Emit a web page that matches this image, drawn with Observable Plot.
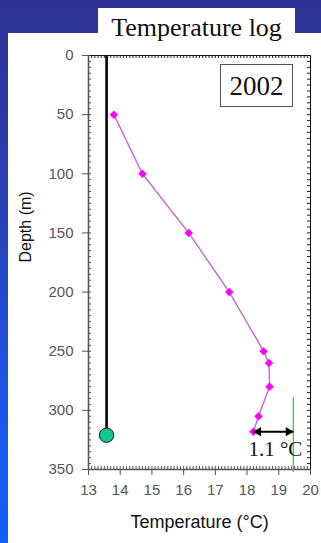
<!DOCTYPE html>
<html>
<head>
<meta charset="utf-8">
<script src="https://cdn.jsdelivr.net/npm/d3@7"></script>
<script src="https://cdn.jsdelivr.net/npm/@observablehq/plot@0.6"></script>
<style>
  html, body { margin: 0; padding: 0; }
  #page { position: relative; width: 321px; height: 543px; overflow: hidden;
    background: linear-gradient(to bottom, #2e3192 0%, #2b3fb4 35%, #1f52de 65%, #1060fb 100%); }
  #panel { position: absolute; left: 8px; top: 33px; width: 313px; height: 510px; background: #fff; }
  #titlebox { position: absolute; left: 98px; top: 8px; width: 197px; height: 26px; background: #fff; }
  #title { position: absolute; left: 98px; width: 197px; top: 13px; text-align: center;
    font-family: "Liberation Serif", "Times New Roman", serif; font-size: 26px; line-height: 30px; color: #111; }
  #year { position: absolute; left: 220px; top: 64px; width: 73px; height: 43px; border: 1px solid #555;
    box-sizing: border-box; background: #fff; text-align: center;
    font-family: "Liberation Serif", "Times New Roman", serif; font-size: 27px; line-height: 42px; color: #111; }
  #chart { position: absolute; left: 0; top: 0; }
</style>
</head>
<body>
<div id="page">
  <div id="panel"></div>
  <div id="titlebox"></div>
  <div id="title">Temperature log</div>
  <div id="chart"></div>
  <div id="year">2002</div>
</div>
<script>
// ---- data ----
const temperatures = [13.80, 14.70, 16.16, 17.44, 18.52, 18.69, 18.71, 18.36, 18.20];
const depths       = [50, 100, 150, 200, 250, 260, 280, 305, 318];
const depthTicks = [0, 50, 100, 150, 200, 250, 300, 350];
const tempTicks  = [13, 14, 15, 16, 17, 18, 19, 20];
const probeTemp = 13.57;
const probeTopDepth = 0;
const probeDepth = 321;
const refTemp = 19.46;          // green reference line
const refDepthTop = 289;
const refDepthBottom = 352.5;
const deltaLabel = "1.1 °C";
const yearLabel = "2002";
const xLabel = "Temperature (°C)";
const yLabel = "Depth (m)";

const points = temperatures.map((t, i) => ({t, d: depths[i]}));
const last = points[points.length - 1];
const ann = [{x1: last.t, x2: refTemp, y: last.d, mid: (last.t + refTemp) / 2}];
const probe = [{t: probeTemp, top: probeTopDepth, d: probeDepth}];
const ref = [{t: refTemp, y1: refDepthTop, y2: refDepthBottom}];
const depthMinor = d3.range(0, 351, 5);
const tempMinor = d3.range(130, 201).map(v => v / 10);

const axisGray = "#555";
const fmt = d => String(d);

const chart = Plot.plot({
  width: 321,
  height: 543,
  marginLeft: 88,
  marginRight: 11,
  marginTop: 55,
  marginBottom: 74,
  style: {background: "transparent", fontFamily: "'Liberation Sans', Arial, sans-serif", fontSize: "15px", overflow: "visible"},
  x: {domain: [13, 20]},
  y: {domain: [0, 350], reverse: true},
  marks: [
    // minor ticks (inward)
    Plot.ruleX(tempMinor, {x: d => d, y1: 350, y2: 350, insetTop: -3, stroke: axisGray}),
    Plot.ruleX(tempMinor, {x: d => d, y1: 0, y2: 0, insetBottom: -3, stroke: "#222"}),
    Plot.ruleY(depthMinor, {y: d => d, x1: 13, x2: 13, insetRight: -3, stroke: axisGray}),
    Plot.ruleY(depthMinor, {y: d => d, x1: 20, x2: 20, insetLeft: -3, stroke: "#222"}),
    // frame
    Plot.ruleY([0], {stroke: "#111", strokeWidth: 1}),
    Plot.ruleX([20], {stroke: "#111", strokeWidth: 1}),
    Plot.ruleX([13], {stroke: axisGray, strokeWidth: 1.6}),
    Plot.ruleY([350], {stroke: axisGray, strokeWidth: 1.6}),
    // major axes
    Plot.axisX({ticks: tempTicks, tickFormat: fmt, tickSize: 6, tickPadding: 9, color: axisGray, label: null, fontSize: 15}),
    Plot.axisY({ticks: depthTicks, tickFormat: fmt, tickSize: 6, tickPadding: 9, color: axisGray, label: null, fontSize: 15}),
    Plot.text([xLabel], {frameAnchor: "bottom", dy: 58, lineAnchor: "bottom", fontSize: 18, fill: "#111", text: d => d}),
    Plot.text([yLabel], {frameAnchor: "left", dx: -58, rotate: -90, lineAnchor: "bottom", fontSize: 16, fill: "#111", text: d => d}),
    // probe
    Plot.ruleX(probe, {x: "t", y1: "top", y2: "d", stroke: "#000", strokeWidth: 2.6}),
    Plot.dot(probe, {x: "t", y: "d", r: 7.2, fill: "#12c890", stroke: "#111", strokeWidth: 1}),
    // temperature profile
    Plot.line(points, {x: "t", y: "d", stroke: "#c468cc", strokeWidth: 1.4}),
    Plot.dot(points, {x: "t", y: "d", symbol: "diamond2", r: 3.6, fill: "#ff00ff", stroke: "#ff00ff", strokeWidth: 0.5}),
    // annotation
    Plot.ruleX(ref, {x: "t", y1: "y1", y2: "y2", stroke: "#22dd22", strokeWidth: 1.3}),
    Plot.link(ann, {x1: "x1", x2: "x2", y1: "y", y2: "y", stroke: "#000", strokeWidth: 2}),
    Plot.dot(ann, {x: "x1", y: "y", symbol: "triangle", rotate: -90, r: 3.4, dx: 5, fill: "#000"}),
    Plot.dot(ann, {x: "x2", y: "y", symbol: "triangle", rotate: 90, r: 3.4, dx: -5, fill: "#000"}),
    Plot.text(ann, {x: "mid", y: "y", text: () => deltaLabel, dy: 24, dx: 2, lineAnchor: "bottom",
      fontFamily: "'Liberation Serif', 'Times New Roman', serif", fontSize: 21, fill: "#111"})
  ]
});
document.getElementById("chart").appendChild(chart);
document.getElementById("year").textContent = yearLabel;
</script>
</body>
</html>
